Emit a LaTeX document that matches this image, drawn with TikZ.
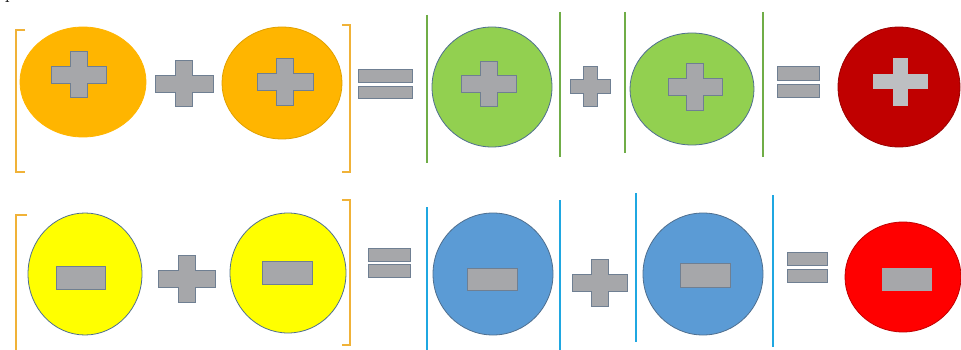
\documentclass[tikz,border=0pt]{standalone}
\usepackage{xcolor}
\usepackage{tikz}
\usetikzlibrary{shapes.geometric, positioning}
\definecolor{chargeorange}{HTML}{FFB500}
\definecolor{chargeorangedark}{HTML}{E0A000}
\definecolor{chargeyellow}{HTML}{FFFF00}
\definecolor{chargegreen}{HTML}{92D050}
\definecolor{chargeblue}{HTML}{5B9BD5}
\definecolor{chargedarkred}{HTML}{C00000}
\definecolor{chargered}{HTML}{FF0000}
\definecolor{chargeoutline}{HTML}{4F6F8F}
\definecolor{signfill}{HTML}{A6A7AA}
\definecolor{signedge}{HTML}{6F7F92}
\definecolor{signlight}{HTML}{BDBFC2}
\definecolor{bracketorange}{HTML}{F0B238}
\definecolor{bargreen}{HTML}{70AD47}
\definecolor{barblue}{HTML}{1FA7E1}

% cross: [style]{cx}{cy}{half width}{half height}{half arm}
\newcommand{\crosssign}[6][]{%
  \draw[signshape, #1] (#2-#6,#3-#5) -- (#2+#6,#3-#5) -- (#2+#6,#3-#6) -- (#2+#4,#3-#6)
    -- (#2+#4,#3+#6) -- (#2+#6,#3+#6) -- (#2+#6,#3+#5) -- (#2-#6,#3+#5)
    -- (#2-#6,#3+#6) -- (#2-#4,#3+#6) -- (#2-#4,#3-#6) -- (#2-#6,#3-#6) -- cycle;}

\begin{document}
\begin{tikzpicture}[
  x=1pt, y=-1pt,
  charge/.style={ellipse, draw=chargeoutline, line width=0.8pt, inner sep=0pt},
  signshape/.style={fill=signfill, draw=signedge, line width=1pt},
  minusbar/.style={rectangle, fill=signfill, draw=signedge, line width=0.8pt, inner sep=0pt},
  eqbar/.style={rectangle, fill=signfill, draw=signedge, line width=1pt, inner sep=0pt},
  bracketline/.style={bracketorange, line width=2.6pt},
  greenbar/.style={bargreen, line width=2.8pt},
  bluebar/.style={barblue, line width=2.8pt}
]
\useasboundingbox[fill=white] (0,0) rectangle (961,350);

% cut-off text at the top edge
\node[anchor=base, inner sep=0pt, font=\fontsize{20}{24}\selectfont] (ptext) at (10,-1) {p};

% Row 1: positive charges
\draw[bracketline] (25,30) -- (16,30) -- (16,172) -- (25,172);
\draw[bracketline] (342,25) -- (350,25) -- (350,172) -- (342,172);

\node[charge, fill=chargeorange, draw=chargeorange, minimum width=126pt, minimum height=110pt] (o1) at (83,82) {};
\node[charge, fill=chargeorange, draw=chargeorangedark, minimum width=120pt, minimum height=112pt] (o2) at (282,83) {};
\crosssign{79}{75}{27.5}{23}{8.5}
\crosssign{184}{84}{29}{23}{8.5}
\crosssign{285}{82}{28}{23.5}{8.5}

\node[eqbar, minimum width=54pt, minimum height=13pt] (e1a) at (385,76.5) {};
\node[eqbar, minimum width=54pt, minimum height=12pt] (e1b) at (385,93) {};

\draw[greenbar] (427,15) -- (427,163);
\draw[greenbar] (560,12) -- (560,157);
\draw[greenbar] (625,12) -- (625,153);
\draw[greenbar] (763,12) -- (763,157);

\node[charge, fill=chargegreen, minimum width=120pt, minimum height=120pt] (g1) at (492,87) {};
\node[charge, fill=chargegreen, minimum width=124pt, minimum height=112pt] (g2) at (692,89) {};
\crosssign{489}{84}{27.5}{22.5}{8.5}
\crosssign{590}{87}{20}{20}{7}
\crosssign{695}{87}{27}{23.5}{8.5}

\node[eqbar, minimum width=42pt, minimum height=14pt] (e2a) at (798,74) {};
\node[eqbar, minimum width=42pt, minimum height=13pt] (e2b) at (798,91.5) {};

\node[charge, fill=chargedarkred, draw=chargedarkred!80!black, minimum width=122pt, minimum height=120pt] (r1) at (899,87) {};
\crosssign[fill=signlight, draw=signlight]{900}{82}{27}{23.5}{7}

% Row 2: negative charges
\draw[bracketline] (27,215) -- (16,215) -- (16,352);
\draw[bracketline] (342,200) -- (350,200) -- (350,345) -- (342,345);

\node[charge, fill=chargeyellow, minimum width=114pt, minimum height=122pt] (y1) at (85,274) {};
\node[charge, fill=chargeyellow, minimum width=116pt, minimum height=120pt] (y2) at (288,273) {};
\node[minusbar, minimum width=49pt, minimum height=23pt] (m1) at (81,278) {};
\node[minusbar, minimum width=50pt, minimum height=23pt] (m2) at (287,273) {};
\crosssign{187}{279}{28.5}{23.5}{8.5}

\node[eqbar, minimum width=42pt, minimum height=13pt] (e3a) at (389,254.5) {};
\node[eqbar, minimum width=42pt, minimum height=13pt] (e3b) at (389,270.5) {};

\draw[bluebar] (427,207) -- (427,352);
\draw[bluebar] (560,200) -- (560,352);
\draw[bluebar] (636,193) -- (636,342);
\draw[bluebar] (773,195) -- (773,347);

\node[charge, fill=chargeblue, minimum width=120pt, minimum height=122pt] (b1) at (493,274) {};
\node[charge, fill=chargeblue, minimum width=120pt, minimum height=122pt] (b2) at (703,274) {};
\node[minusbar, minimum width=50pt, minimum height=22pt] (m3) at (492,279) {};
\node[minusbar, minimum width=50pt, minimum height=24pt] (m4) at (705,275) {};
\crosssign{600}{283}{27.5}{23.5}{8.5}

\node[eqbar, minimum width=40pt, minimum height=13pt] (e4a) at (807,258.5) {};
\node[eqbar, minimum width=40pt, minimum height=13pt] (e4b) at (807,275.5) {};

\node[charge, fill=chargered, draw=chargered!75!black, minimum width=116pt, minimum height=110pt] (r2) at (903,277) {};
\node[minusbar, draw=signfill, minimum width=49pt, minimum height=22pt] (m5) at (907,279) {};

\end{tikzpicture}
\end{document}
